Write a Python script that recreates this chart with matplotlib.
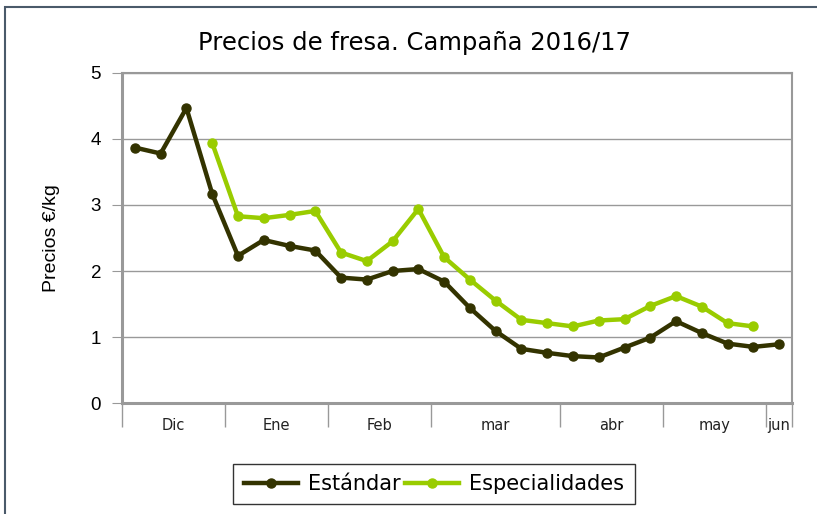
import numpy as np
import matplotlib.pyplot as plt
from matplotlib.patches import Rectangle

# data (26 weekly points, Dic -> jun)
estandar = [3.87, 3.78, 4.47, 3.17, 2.23, 2.47, 2.38, 2.31, 1.90, 1.87,
            2.00, 2.03, 1.84, 1.44, 1.09, 0.82, 0.76, 0.71, 0.69, 0.84,
            0.99, 1.24, 1.06, 0.90, 0.85, 0.89]
especialidades = [np.nan, np.nan, np.nan, 3.94, 2.83, 2.80, 2.85, 2.91, 2.28, 2.15,
                  2.45, 2.94, 2.21, 1.87, 1.55, 1.26, 1.21, 1.16, 1.25, 1.27,
                  1.47, 1.62, 1.46, 1.21, 1.16, np.nan]
months = ['Dic', 'Ene', 'Feb', 'mar', 'abr', 'may', 'jun']
weeks_per_month = [4, 4, 4, 5, 4, 4, 1]

plt.rcParams['font.family'] = ['DejaVu Sans']

fig = plt.figure(figsize=(8.17, 5.14), dpi=100)
ax = fig.add_axes([122 / 817, 1 - 403 / 514, 670 / 817, 330 / 514])

x = np.arange(len(estandar)) + 0.5
ax.plot(x, estandar, color='#333300', lw=3.2, marker='o', ms=6.5, label='Estándar', zorder=3)
ax.plot(x, especialidades, color='#99CC00', lw=3.2, marker='o', ms=6.5, label='Especialidades', zorder=3)

ax.set_xlim(0, len(estandar))
ax.set_ylim(0, 5)
ax.set_yticks(range(6))
ax.yaxis.grid(True, color='#999999', lw=1.0)
ax.set_axisbelow(True)

# month boundaries as long minor ticks, labels centred between them
bounds = np.concatenate([[0], np.cumsum(weeks_per_month)])
centres = (bounds[:-1] + bounds[1:]) / 2
ax.set_xticks(bounds, minor=True)
ax.set_xticks(centres)
ax.set_xticklabels(months, fontsize=10.5, color='#222222')
ax.tick_params(axis='x', which='major', length=0, pad=11)
ax.tick_params(axis='x', which='minor', length=17, color='#999999', width=1)
ax.tick_params(axis='y', length=7, color='#999999', pad=8)
for lab in ax.get_yticklabels():
    lab.set_fontfamily('Liberation Sans')
    lab.set_fontsize(13.5)

for side in ['left', 'bottom']:
    ax.spines[side].set_color('#999999')
    ax.spines[side].set_linewidth(2.2)
for side in ['top', 'right']:
    ax.spines[side].set_color('#999999')
    ax.spines[side].set_linewidth(1.5)

ax.set_ylabel('Precios €/kg', fontsize=14, labelpad=22, fontfamily='Liberation Sans')
fig.text(0.507, 1 - 43 / 514, 'Precios de fresa. Campaña 2016/17', fontsize=17.5,
         ha='center', va='center')

leg = fig.legend(loc='center', bbox_to_anchor=(434 / 817, 1 - 484 / 514), ncol=2,
                 fontsize=15, frameon=True, fancybox=False, handlelength=2.6,
                 handletextpad=0.5, columnspacing=0.2, borderpad=0.5)
leg.get_frame().set_edgecolor('black')
leg.get_frame().set_linewidth(1.0)

# outer chart border (left and top visible)
fig.patches.append(Rectangle((5 / 817, -0.1), 1.2, 1.1 - 7 / 514, transform=fig.transFigure,
                             fill=False, edgecolor='#4a5a6a', lw=1.5))

plt.savefig('out.png', dpi=100)
